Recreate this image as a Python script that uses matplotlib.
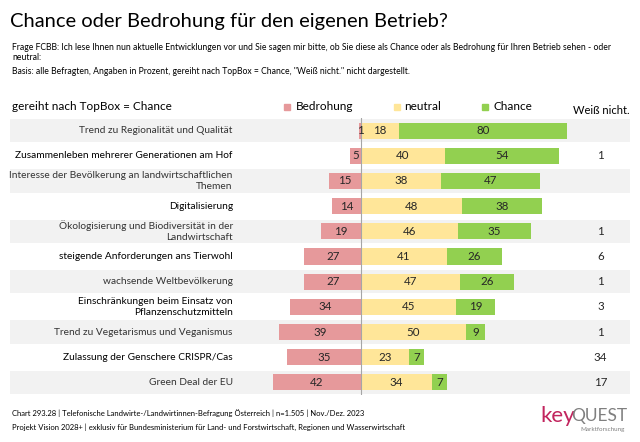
import matplotlib.pyplot as plt

plt.rcParams["font.family"] = ["Lato", "DejaVu Sans"]

# data, top to bottom
topics = [
    "Trend zu Regionalität und Qualität",
    "Zusammenleben mehrerer Generationen am Hof",
    "Interesse der Bevölkerung an landwirtschaftlichen\nThemen",
    "Digitalisierung",
    "Ökologisierung und Biodiversität in der\nLandwirtschaft",
    "steigende Anforderungen ans Tierwohl",
    "wachsende Weltbevölkerung",
    "Einschränkungen beim Einsatz von\nPflanzenschutzmitteln",
    "Trend zu Vegetarismus und Veganismus",
    "Zulassung der Genschere CRISPR/Cas",
    "Green Deal der EU",
]
bedrohung = [1, 5, 15, 14, 19, 27, 27, 34, 39, 35, 42]
neutral = [18, 40, 38, 48, 46, 41, 47, 45, 50, 23, 34]
chance = [80, 54, 47, 38, 35, 26, 26, 19, 9, 7, 7]
weiss_nicht = ["", "1", "", "", "1", "6", "1", "3", "1", "34", "17"]

RED = "#E6999B"
YELLOW = "#FFE699"
GREEN = "#92D050"
BAND = "#F2F2F2"

W, H = 640, 442
fig = plt.figure(figsize=(W / 100, H / 100), dpi=100)

# axes: px 10..630 horizontally, 118..395 vertically
ax = fig.add_axes([10 / W, (H - 395) / H, 620 / W, 277 / H])
xmin, xmax = -167, 128
ax.set_xlim(xmin, xmax)
ax.set_ylim(len(topics) - 0.5, -0.5)
ax.axis("off")

rows = list(range(len(topics)))
for i in rows:
    if i % 2 == 0:
        ax.barh(i, xmax - xmin, left=xmin, height=0.93, color=BAND, zorder=0)

ax.barh(rows, [-b for b in bedrohung], height=0.64, color=RED, zorder=2)
ax.barh(rows, neutral, height=0.64, color=YELLOW, zorder=2)
ax.barh(rows, chance, left=neutral, height=0.64, color=GREEN, zorder=2)
ax.axvline(0, color="#A6A6A6", lw=0.8, zorder=3)

for i in rows:
    ax.text(-bedrohung[i] / 2, i, str(bedrohung[i]), ha="center", va="center",
            fontsize=8.3, color="#262626", zorder=4)
    ax.text(neutral[i] / 2, i, str(neutral[i]), ha="center", va="center",
            fontsize=8.3, color="#262626", zorder=4)
    ax.text(neutral[i] + chance[i] / 2, i, str(chance[i]), ha="center",
            va="center", fontsize=8.3, color="#262626", zorder=4)
    ax.text(114, i, weiss_nicht[i], ha="center", va="center", fontsize=8.3,
            color="#262626")
    ax.text(-61, i, topics[i], ha="right", va="center", fontsize=7.3,
            color="#333333" if i % 2 == 0 else "#000000", linespacing=1.25)

# header
fig.text(10 / W, 1 - 22 / H, "Chance oder Bedrohung für den eigenen Betrieb?",
         fontsize=14.5, va="center", color="#000000")
fig.text(12 / W, 1 - 47 / H,
         "Frage FCBB: Ich lese Ihnen nun aktuelle Entwicklungen vor und Sie sagen mir bitte, "
         "ob Sie diese als Chance oder als Bedrohung für Ihren Betrieb sehen - oder",
         fontsize=6.2, va="center")
fig.text(12 / W, 1 - 58 / H, "neutral:", fontsize=6.2, va="center")
fig.text(12 / W, 1 - 71 / H,
         "Basis: alle Befragten, Angaben in Prozent, gereiht nach TopBox = Chance, "
         "\"Weiß nicht.\" nicht dargestellt.", fontsize=6.2, va="center")
fig.text(12 / W, 1 - 106 / H, "gereiht nach TopBox = Chance", fontsize=8.5,
         va="center")

# legend
for sx, tx, lab, col in [(287, 296, "Bedrohung", RED), (397, 404, "neutral", YELLOW),
                         (485, 493, "Chance", GREEN)]:
    fig.patches.append(plt.Rectangle(((sx - 3) / W, 1 - 110 / H), 6 / W, 6 / H,
                                     transform=fig.transFigure, color=col))
    fig.text(tx / W, 1 - 107 / H, lab, fontsize=8.5, va="center")
fig.text(601 / W, 1 - 110 / H, "Weiß nicht.", fontsize=8, va="center", ha="center")

# footer
fig.text(12 / W, 1 - 413 / H,
         "Chart 293.28 | Telefonische Landwirte-/Landwirtinnen-Befragung Österreich | "
         "n=1.505 | Nov./Dez. 2023", fontsize=5.5, va="center")
fig.text(12 / W, 1 - 427 / H,
         "Projekt Vision 2028+ | exklusiv für Bundesministerium für Land- und "
         "Forstwirtschaft, Regionen und Wasserwirtschaft", fontsize=5.5, va="center")

# logo
fig.text(540 / W, 1 - 416 / H, "key", fontsize=16, color="#C2255E", va="center")
fig.text(571 / W, 1 - 416 / H, "QUEST", fontsize=12.5, color="#7F7F7F", va="center")
fig.text(625 / W, 1 - 430 / H, "Marktforschung", fontsize=4.5, color="#7F7F7F",
         va="center", ha="right")

fig.savefig("out.png", dpi=100)
